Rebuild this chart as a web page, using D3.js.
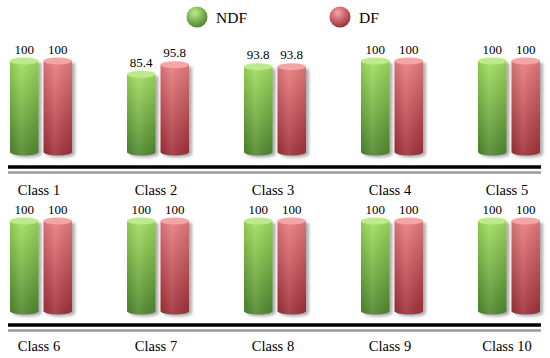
<!DOCTYPE html>
<html>
<head>
<meta charset="utf-8">
<script src="https://cdn.jsdelivr.net/npm/d3@7"></script>
<style>
  body { margin: 0; background: #fff; }
  svg { display: block; }
  text { font-family: "Liberation Serif", "Times New Roman", serif; }
</style>
</head>
<body>
<div id="chart"></div>
<script>
let width = 550, height = 358;

let classes = ["Class 1", "Class 2", "Class 3", "Class 4", "Class 5",
               "Class 6", "Class 7", "Class 8", "Class 9", "Class 10"];
let series = ["NDF", "DF"];
let ndf = [100, 85.4, 93.8, 100, 100, 100, 100, 100, 100, 100];
let df  = [100, 95.8, 93.8, 100, 100, 100, 100, 100, 100, 100];

let colors = {
    NDF: { top: "#a2de5e", bottom: "#4e872c", cap: "#bdea8e" },
    DF:  { top: "#e87c7e", bottom: "#a02e37", cap: "#f3a6a6" }
};

// two rows of five classes
let rows = [
    { start: 0, base: 152, top: 61, lineY: 167, labelY: 195 },
    { start: 5, base: 311, top: 221, lineY: 325, labelY: 351 }
];

let svg = d3.select("#chart")
    .append("svg")
    .attr("width", width)
    .attr("height", height);

let defs = svg.append("defs");

let shadow = defs.append("filter")
    .attr("id", "shadow")
    .attr("x", "-30%").attr("y", "-10%")
    .attr("width", "170%").attr("height", "130%");
shadow.append("feDropShadow")
    .attr("dx", 3).attr("dy", 2)
    .attr("stdDeviation", 1.6)
    .attr("flood-color", "#777")
    .attr("flood-opacity", 0.6);

series.forEach(s => {
    let g = defs.append("linearGradient")
        .attr("id", "grad-" + s)
        .attr("x1", 0).attr("y1", 0).attr("x2", 0).attr("y2", 1);
    g.append("stop").attr("offset", "0%").attr("stop-color", colors[s].top);
    g.append("stop").attr("offset", "100%").attr("stop-color", colors[s].bottom);

    let r = defs.append("radialGradient")
        .attr("id", "legend-" + s)
        .attr("cx", "40%").attr("cy", "30%").attr("r", "70%");
    r.append("stop").attr("offset", "0%").attr("stop-color", colors[s].cap);
    r.append("stop").attr("offset", "100%").attr("stop-color", colors[s].bottom);
});

// horizontal shading for the round look
let shade = defs.append("linearGradient")
    .attr("id", "shade")
    .attr("x1", 0).attr("y1", 0).attr("x2", 1).attr("y2", 0);
shade.append("stop").attr("offset", "0%").attr("stop-color", "#000").attr("stop-opacity", 0.1);
shade.append("stop").attr("offset", "40%").attr("stop-color", "#fff").attr("stop-opacity", 0.1);
shade.append("stop").attr("offset", "100%").attr("stop-color", "#000").attr("stop-opacity", 0.08);

let xScale = d3.scalePoint()
    .domain(d3.range(5))
    .range([40, 508]);

let xInner = d3.scaleBand()
    .domain(series)
    .range([-30, 32])
    .paddingInner(0.15);

let ry = 3.5;

rows.forEach(row => {
    let yScale = d3.scaleLinear()
        .domain([0, 100])
        .range([row.base, row.top]);

    let data = [];
    for (let i = 0; i < 5; i++) {
        let k = row.start + i;
        data.push({ i: i, s: "NDF", v: ndf[k] });
        data.push({ i: i, s: "DF", v: df[k] });
    }

    let bars = svg.append("g")
        .selectAll("g")
        .data(data)
        .enter()
        .append("g")
        .attr("transform", d => "translate(" + (xScale(d.i) + xInner(d.s)) + ",0)");

    let bw = xInner.bandwidth();
    let body = d => {
        let yt = yScale(d.v), yb = yScale(0);
        return "M0," + yt + "L0," + yb +
            "A" + (bw / 2) + "," + ry + " 0 0 0 " + bw + "," + yb +
            "L" + bw + "," + yt + "Z";
    };

    bars.append("path")
        .attr("d", body)
        .attr("fill", d => "url(#grad-" + d.s + ")")
        .attr("filter", "url(#shadow)");

    bars.append("path")
        .attr("d", body)
        .attr("fill", "url(#shade)");

    bars.append("ellipse")
        .attr("cx", bw / 2)
        .attr("cy", d => yScale(d.v))
        .attr("rx", bw / 2)
        .attr("ry", ry)
        .attr("fill", d => colors[d.s].cap);

    bars.append("text")
        .text(d => d.v)
        .attr("x", bw / 2)
        .attr("y", d => yScale(d.v) - ry - 4)
        .attr("text-anchor", "middle")
        .attr("font-size", "13px")
        .attr("fill", "#000");

    // double rule under each row
    svg.append("line")
        .attr("x1", 8).attr("x2", 541)
        .attr("y1", row.lineY).attr("y2", row.lineY)
        .attr("stroke", "#000").attr("stroke-width", 3.5);
    svg.append("line")
        .attr("x1", 8).attr("x2", 541)
        .attr("y1", row.lineY + 5.5).attr("y2", row.lineY + 5.5)
        .attr("stroke", "#999").attr("stroke-width", 2.5);

    svg.append("g")
        .selectAll("text")
        .data(d3.range(5))
        .enter()
        .append("text")
        .text(i => classes[row.start + i])
        .attr("x", i => xScale(i) - 1)
        .attr("y", row.labelY)
        .attr("text-anchor", "middle")
        .attr("font-size", "14.5px")
        .attr("fill", "#000");
});

// legend
let legendX = { NDF: 197, DF: 340 };
let legend = svg.append("g")
    .selectAll("g")
    .data(series)
    .enter()
    .append("g")
    .attr("transform", s => "translate(" + legendX[s] + ",17)");

legend.append("circle")
    .attr("r", 10.5)
    .attr("fill", s => "url(#legend-" + s + ")");

legend.append("text")
    .text(s => s)
    .attr("x", 19)
    .attr("y", 6)
    .attr("font-size", "15.5px")
    .attr("fill", "#000");
</script>
</body>
</html>
